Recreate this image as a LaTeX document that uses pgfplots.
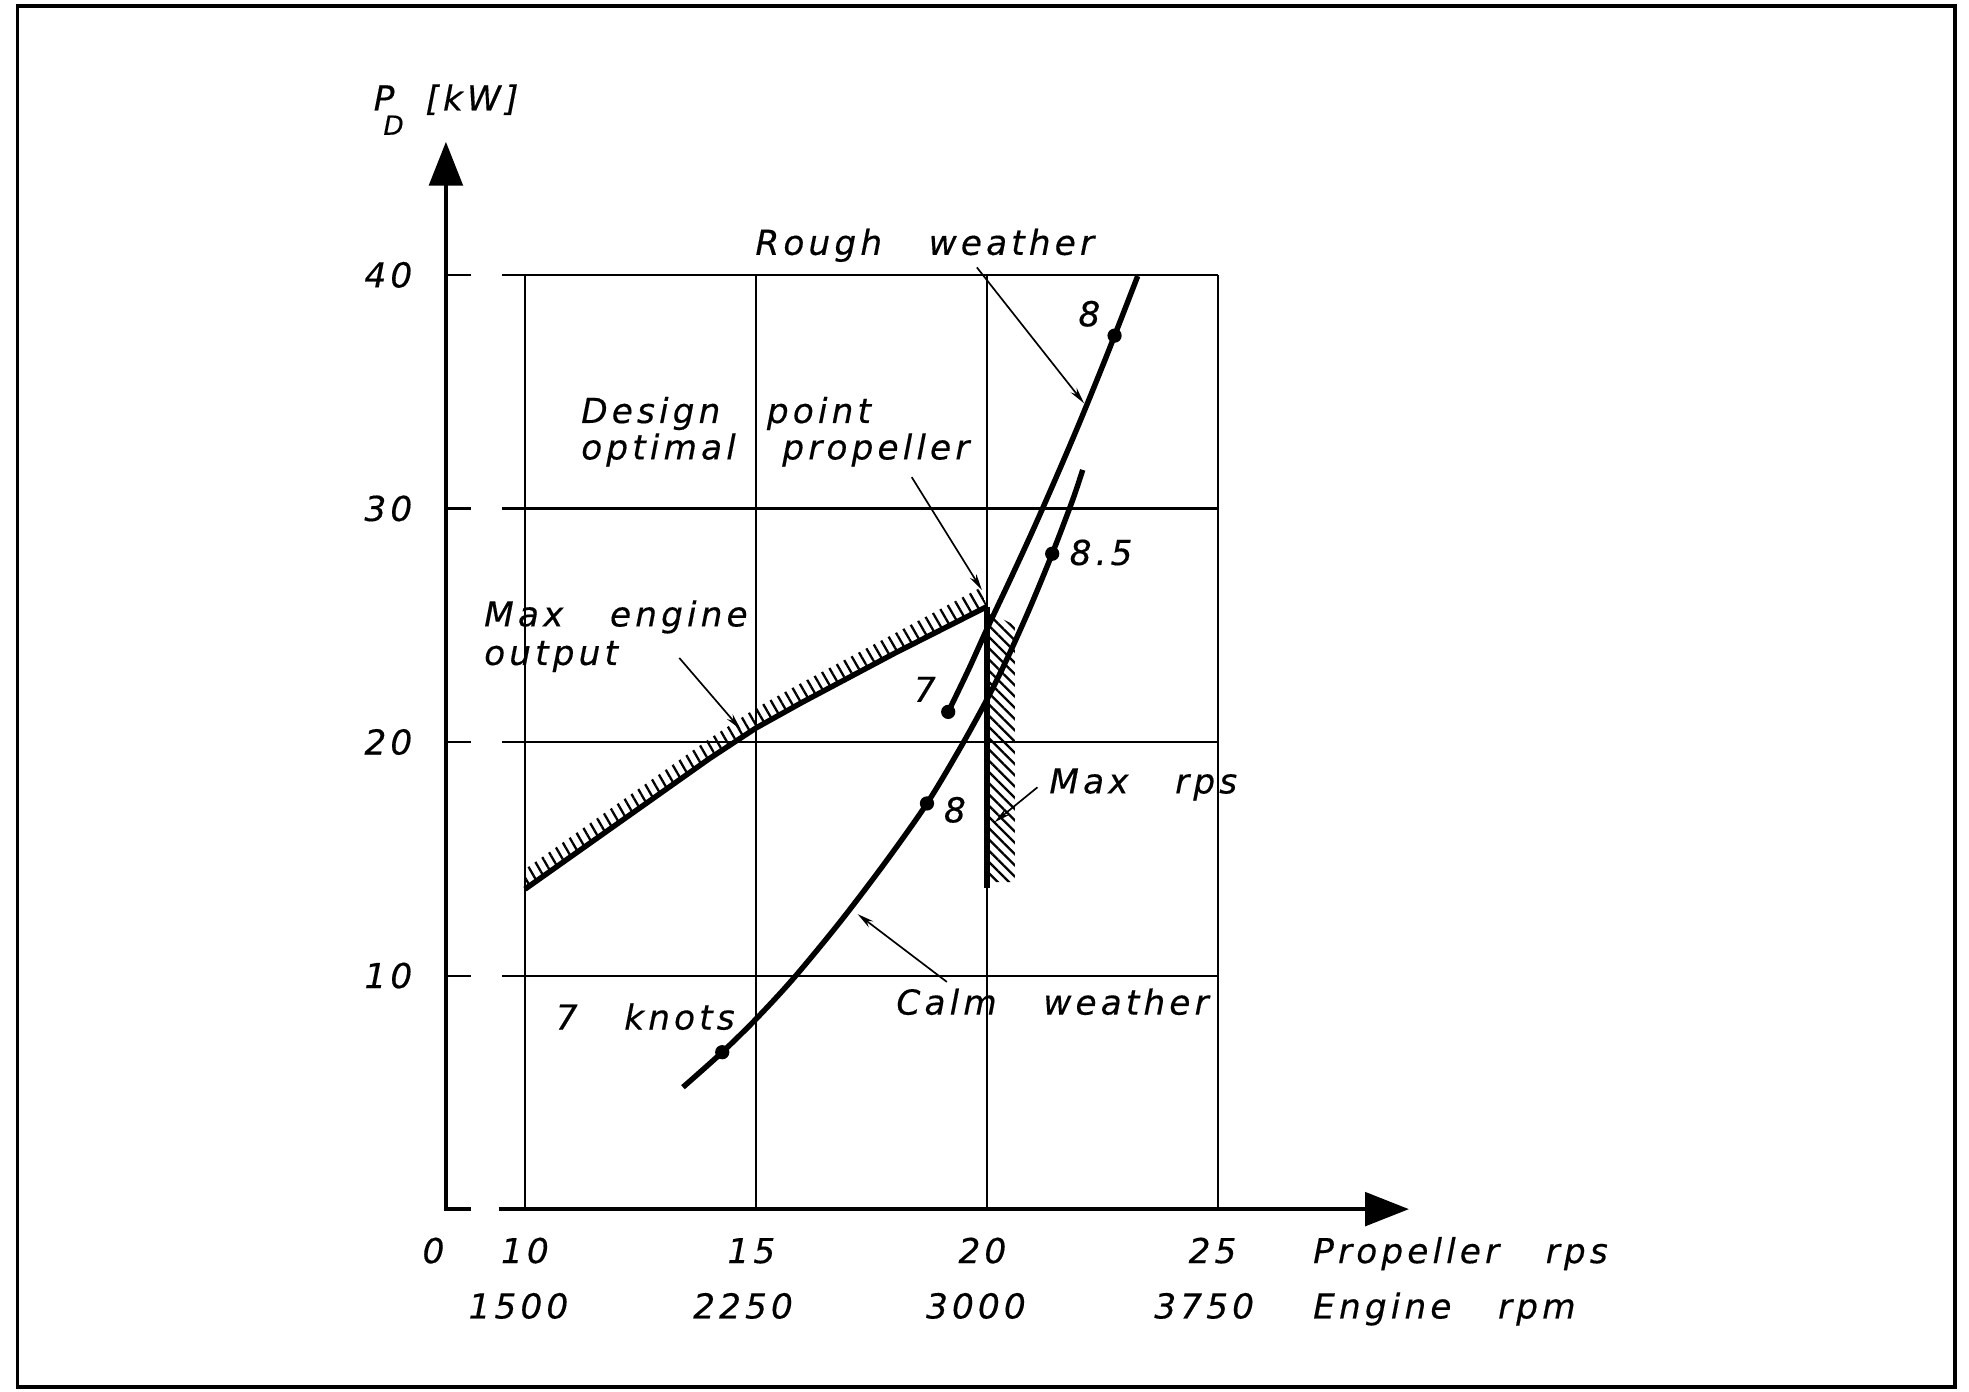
\documentclass[border=0pt]{standalone}
\usepackage{fontspec}
\usepackage{pgfplots}
\pgfplotsset{compat=1.18}
\usetikzlibrary{arrows.meta,patterns.meta}

\newfontfamily\cad{DejaVu Sans}[LetterSpace=12,WordSpace=3.1,FakeBold=0.4]
\newcommand{\lab}{\cad\itshape\fontsize{8.2}{9}\selectfont}

\begin{document}
\begin{tikzpicture}
\begin{axis}[
    x=11.04pt, y=5.58pt,
    xmin=-1.36, xmax=41.25, ymin=-7.80, ymax=51.77,
    hide axis, clip=false,
  ]
  % page extent and outer frame
  \path (-1.36,-7.80) rectangle (41.25,51.77);
  \draw[line width=0.9pt] (-0.98,-7.63) rectangle (40.95,51.51);

  % grid (broken axis: grid starts right of the break)
  \pgfplotsinvokeforeach{10,15,20,25}{
    \draw[line width=0.5pt] (#1,0) -- (#1,40);
  }
  \pgfplotsinvokeforeach{10,20,30,40}{
    \draw[line width=0.5pt] (8.29,#1) -- (8.83,#1);
    \draw[line width=0.5pt] (9.51,#1) -- (25,#1);
  }

  % axes
  \draw[line width=1pt, -{Triangle[length=10.5pt,width=8pt]}]
    (8.83,0) -- (8.29,0) -- (8.29,45.7);
  \draw[line width=1pt, -{Triangle[length=10.5pt,width=8pt]}]
    (9.43,0) -- (29.13,0);

  % hatching: max engine output and max rps
  \addplot[draw=none, pattern={Lines[angle=-60,distance=2.0pt,line width=0.55pt]}]
    coordinates {(10,13.7) (12,16.5) (14,19.3) (15,20.6) (16,21.7) (18,23.8) (20,25.8)
                 (19.85,26.6) (18,24.65) (16,22.55) (15,21.45) (14,20.15) (12,17.35) (10,14.55)} -- cycle;
  \addplot[draw=none, pattern={Lines[angle=-45,distance=1.9pt,line width=0.55pt]}]
    coordinates {(20,25.6) (20.6,25.0) (20.6,14.0) (20,14.0)} -- cycle;

  % max engine output and max rps
  \addplot[line width=1.3pt] coordinates {
    (10,13.7) (12,16.5) (14,19.3) (15,20.6) (16,21.7) (18,23.8) (20,25.8)};
  \addplot[line width=1.3pt] coordinates {(20,25.8) (20,13.76)};

  % calm weather
  \addplot[line width=1.3pt, smooth] coordinates {
    (13.42,5.22) (14.27,6.72) (15.03,8.20) (15.82,9.90) (16.82,12.30)
    (17.80,14.85) (18.70,17.37) (19.43,19.78) (20.0,21.83) (20.43,23.55)
    (20.92,25.71) (21.41,28.06) (21.85,30.35) (22.07,31.65)};
  % rough weather
  \addplot[line width=1.3pt, smooth] coordinates {
    (19.16,21.29) (19.60,23.10) (20.0,24.85) (20.5,26.95) (21.0,29.10)
    (21.5,31.35) (22.0,33.67) (22.5,36.10) (22.76,37.40) (23.0,38.62) (23.26,39.95)};

  % speed points
  \addplot[only marks, mark=*, mark size=1.5pt] coordinates {
    (14.27,6.72) (18.70,17.37) (21.41,28.06) (19.16,21.29) (22.76,37.40)};

  % tick labels
  \pgfplotsinvokeforeach{10,20,30,40}{
    \node[anchor=east, font=\lab, inner sep=0pt] at (7.58,#1) {#1};
  }
  \node[anchor=base, font=\lab, inner sep=0pt] at (8.02,-2.31) {0};
  \node[anchor=base, font=\lab, inner sep=0pt] at (10.0,-2.31) {10};
  \node[anchor=base, font=\lab, inner sep=0pt] at (14.9,-2.31) {15};
  \node[anchor=base, font=\lab, inner sep=0pt] at (19.9,-2.31) {20};
  \node[anchor=base, font=\lab, inner sep=0pt] at (24.88,-2.31) {25};
  \node[anchor=base, font=\lab, inner sep=0pt] at (9.86,-4.68) {1500};
  \node[anchor=base, font=\lab, inner sep=0pt] at (14.72,-4.68) {2250};
  \node[anchor=base, font=\lab, inner sep=0pt] at (19.76,-4.68) {3000};
  \node[anchor=base, font=\lab, inner sep=0pt] at (24.7,-4.68) {3750};
  \node[anchor=base west, font=\lab, inner sep=0pt] at (27.04,-2.31) {Propeller rps};
  \node[anchor=base west, font=\lab, inner sep=0pt] at (27.04,-4.68) {Engine rpm};

  % y axis title
  \node[anchor=base west, font=\lab, inner sep=0pt] at (6.71,47.04) {P};
  \node[anchor=base west, font=\cad\itshape\fontsize{6.3}{6.3}\selectfont, inner sep=0pt] at (6.92,46.0) {D};
  \node[anchor=base west, font=\lab, inner sep=0pt] at (7.83,47.04) {[kW]};

  % annotations
  \node[anchor=base west, font=\lab, inner sep=0pt] at (14.97,40.86) {Rough weather};
  \node[anchor=base west, font=\lab, inner sep=0pt] at (11.20,33.66) {Design point};
  \node[anchor=base west, font=\lab, inner sep=0pt] at (11.20,32.10) {optimal propeller};
  \node[anchor=base west, font=\lab, inner sep=0pt] at (9.10,24.95) {Max engine};
  \node[anchor=base west, font=\lab, inner sep=0pt] at (9.10,23.30) {output};
  \node[anchor=base west, font=\lab, inner sep=0pt] at (21.33,17.80) {Max rps};
  \node[anchor=base west, font=\lab, inner sep=0pt] at (18.02,8.33) {Calm weather};
  \node[anchor=base west, font=\lab, inner sep=0pt] at (10.65,7.69) {7 knots};
  \node[anchor=base west, font=\lab, inner sep=0pt] at (18.40,21.72) {7};
  \node[anchor=base west, font=\lab, inner sep=0pt] at (19.05,16.56) {8};
  \node[anchor=base west, font=\lab, inner sep=0pt] at (21.77,27.58) {8.5};
  \node[anchor=base west, font=\lab, inner sep=0pt] at (21.96,37.80) {8};

  % leader lines
  \draw[line width=0.4pt, -{Stealth[length=4pt,width=1.8pt]}] (19.78,40.32) -- (22.10,34.50);
  \draw[line width=0.4pt, -{Stealth[length=4pt,width=1.8pt]}] (18.37,31.34) -- (19.89,26.5);
  \draw[line width=0.4pt, -{Stealth[length=4pt,width=1.8pt]}] (13.34,23.6) -- (14.67,20.54);
  \draw[line width=0.4pt, -{Stealth[length=4pt,width=1.8pt]}] (21.09,18.06) -- (20.16,16.56);
  \draw[line width=0.4pt, -{Stealth[length=4pt,width=1.8pt]}] (19.13,9.73) -- (17.2,12.63);
\end{axis}
\end{tikzpicture}
\end{document}
